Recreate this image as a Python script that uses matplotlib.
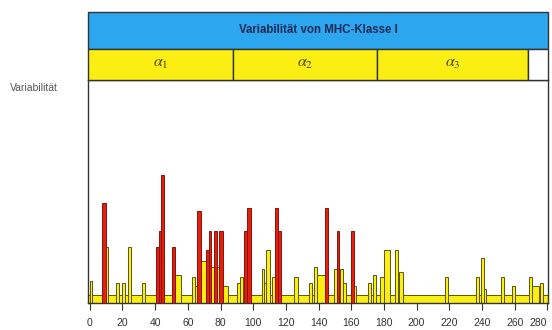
import matplotlib.pyplot as plt
from matplotlib.patches import Rectangle

plt.rcParams['font.family'] = ['Liberation Sans', 'DejaVu Sans']

# segments of the variability profile: start, end, height, red (1) / yellow (0)
seg_start = [0.0, 7.7, 9.7, 16.0, 19.7, 23.6, 31.9, 40.5, 42.3, 43.8, 50.3, 52.3,
             62.3, 64.5, 65.8, 67.4, 71.1, 72.7, 74.3, 76.0, 77.6, 79.2, 81.3,
             89.8, 91.9, 94.3, 96.4, 105.1, 106.8, 108.0, 111.6, 113.3, 115.3,
             125.1, 133.9, 137.2, 139.2, 143.8, 149.3, 151.0, 153.0, 155.1,
             160.1, 161.8, 170.0, 173.6, 177.5, 179.9, 186.7, 189.1, 217.2,
             236.2, 239.5, 241.1, 251.5, 258.4, 268.6, 270.6, 275.3]
seg_end = [1.5, 9.7, 11.3, 18.1, 21.7, 25.0, 33.6, 42.3, 43.8, 45.4, 52.3, 55.8,
           64.5, 65.8, 67.8, 71.1, 72.7, 74.3, 76.0, 77.6, 79.2, 81.3, 84.7,
           91.9, 93.5, 96.4, 98.4, 106.8, 108.0, 110.2, 113.3, 115.3, 117.0,
           127.2, 135.8, 139.2, 143.8, 145.9, 151.0, 152.6, 155.1, 156.8,
           161.8, 163.2, 172.0, 175.1, 179.9, 183.6, 188.7, 191.8, 219.3,
           238.0, 241.1, 242.7, 253.5, 260.5, 270.6, 274.9, 277.4]
seg_height = [22, 100, 56, 20, 20, 56, 20, 56, 72, 128, 56, 28,
              26, 17, 92, 42, 53, 72, 36, 72, 36, 72, 17,
              20, 26, 72, 95, 34, 20, 53, 26, 95, 72,
              26, 20, 36, 28, 95, 34, 72, 34, 20,
              72, 17, 20, 28, 26, 53, 53, 31, 26,
              26, 45, 14, 26, 17, 26, 17, 20]
seg_red = [0, 1, 0, 0, 0, 0, 0, 1, 1, 1, 1, 0,
           0, 0, 1, 0, 1, 1, 0, 1, 0, 1, 0,
           0, 0, 1, 1, 0, 0, 0, 0, 1, 1,
           0, 0, 0, 0, 1, 0, 1, 0, 0,
           1, 0, 0, 0, 0, 0, 0, 0, 0,
           0, 0, 0, 0, 0, 0, 0, 0]
base_height = 8

domain_names = [r'$\alpha_1$', r'$\alpha_2$', r'$\alpha_3$', '']
domain_edges = [-1.1, 87.8, 176.0, 268.2, 280.4]
title_text = 'Variabilität von MHC-Klasse I'
ylabel_text = 'Variabilität'
xticks = list(range(0, 281, 20))

YELLOW = '#faee12'
YEDGE = '#5c5410'
RED = '#e3200f'
REDGE = '#8a1208'
BLUE = '#2ca6ee'
LINE = '#333333'

fig = plt.figure(figsize=(5.52, 3.30), dpi=100)
ax = fig.add_axes([88 / 552, 27 / 330, 460 / 552, 223 / 330])
ax.set_xlim(domain_edges[0], domain_edges[-1])
ax.set_ylim(0, 223)

# baseline level across the whole chain
ax.bar(domain_edges[0], base_height, width=domain_edges[-1] - domain_edges[0],
       align='edge', color=YELLOW, edgecolor=YEDGE, linewidth=0.7, zorder=1)
for s, e, h, r in zip(seg_start, seg_end, seg_height, seg_red):
    ax.bar(s, h, width=e - s, align='edge',
           color=RED if r else YELLOW, edgecolor=REDGE if r else YEDGE,
           linewidth=0.7, zorder=3 if r else 2)

ax.set_xticks(xticks)
ax.set_xticklabels([str(t) for t in xticks])
ax.tick_params(axis='x', direction='out', length=5, width=0.8, color=LINE,
               labelsize=7.5, labelcolor='#333333', pad=6)
ax.get_xticklabels()[-1].set_horizontalalignment('right')
ax.get_xticklabels()[-1].set_x(282)
ax.set_yticks([])
for sp in ax.spines.values():
    sp.set_color(LINE)
    sp.set_linewidth(1.0)

fig.text(10 / 552, 1 - 88 / 330, ylabel_text, fontsize=7.5, color='#555555',
         ha='left', va='center')

# banner with domain names
top = fig.add_axes([88 / 552, 1 - 80 / 330, 460 / 552, 68 / 330])
top.set_xlim(domain_edges[0], domain_edges[-1])
top.set_ylim(0, 68)
top.axis('off')
span = domain_edges[-1] - domain_edges[0]
top.add_patch(Rectangle((domain_edges[0], 31), span, 37, facecolor=BLUE,
                        edgecolor=LINE, linewidth=1.0, clip_on=False))
top.text((domain_edges[0] + domain_edges[-1]) / 2, 50, title_text,
         ha='center', va='center', fontsize=8.3, fontweight='bold',
         color='#1c2a55')
for i, name in enumerate(domain_names):
    x0, x1 = domain_edges[i], domain_edges[i + 1]
    top.add_patch(Rectangle((x0, 0), x1 - x0, 31,
                            facecolor=YELLOW if name else 'white',
                            edgecolor=LINE, linewidth=1.0, clip_on=False))
    if name:
        top.text((x0 + x1) / 2, 16, name, ha='center', va='center',
                 fontsize=11.5, color='#4a4410', math_fontfamily='stix')

fig.savefig('out.png', dpi=100)
